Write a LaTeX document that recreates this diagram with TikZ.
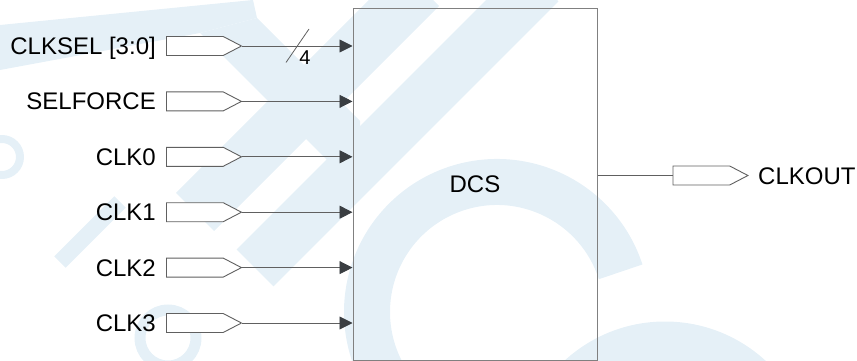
\documentclass[tikz,border=0pt]{standalone}
\usepackage{fontspec}
\setmainfont{Liberation Sans}
\usetikzlibrary{arrows.meta,shapes.symbols}

\definecolor{wmblue}{RGB}{229,240,247}
\definecolor{wire}{RGB}{96,96,96}
\definecolor{tipgray}{RGB}{58,62,66}
\definecolor{boxgray}{RGB}{128,128,128}

\tikzset{
  port/.style={draw=wire, fill=white, line width=0.9pt, shape=signal, signal to=east,
    signal pointer angle=55, minimum width=75pt, minimum height=19pt, inner sep=0pt, anchor=west},
  pinname/.style={anchor=base east, inner sep=0pt},
  pinwire/.style={draw=wire, line width=0.9pt, -{Triangle[length=13pt,width=13pt,color=tipgray]}},
}

\begin{document}
\begin{tikzpicture}[x=1pt,y=-1pt,font=\fontsize{24}{27}\selectfont]
\useasboundingbox (0,0) rectangle (857,361);

% watermark in the background
\begin{scope}
\clip (0,0) rectangle (857,361);
\fill[wmblue] (0,25) -- (253,0) -- (257,18) -- (200,33) -- (0,70) -- cycle;
\fill[wmblue] (200,33) -- (257,18) -- (360,121) -- (360,193) -- cycle;
\draw[wmblue, line width=54pt] (195,212) -- (420,-13);
\draw[wmblue, line width=52pt] (255,268) -- (540,-17);
\draw[wmblue, line width=16pt] (60,262) -- (120,202);
\draw[wmblue, line width=46pt] (497,312) ++(-18:130) arc[start angle=-18, end angle=-215, radius=130];
\draw[wmblue, line width=43pt] (665,470) circle[radius=127];
\draw[wmblue, line width=8pt] (2,157) circle[radius=18];
\draw[wmblue, line width=11pt] (168,338) circle[radius=28];
\end{scope}

% the block
\node[draw=boxgray, line width=1pt, minimum width=244pt, minimum height=351pt, inner sep=0pt] (dcs) at (475,184.5) {DCS};

% inputs
\node[port] (psel) at (166,46) {};
\node[pinname] (nsel) at (156,54.6) {CLKSEL [3:0]};
\draw[pinwire] (psel.east) -- (dcs.west |- psel.east);
\draw[wire, line width=0.8pt] (286,62.5) -- (309,29);
\node[inner sep=0pt, font=\fontsize{20}{22}\selectfont] (wid) at (305,57.5) {4};

\node[port] (pforce) at (166,101.4) {};
\node[pinname] (nforce) at (156,110) {SELFORCE};
\draw[pinwire] (pforce.east) -- (dcs.west |- pforce.east);

\node[port] (pclk0) at (166,156.8) {};
\node[pinname] (nclk0) at (156,165.4) {CLK0};
\draw[pinwire] (pclk0.east) -- (dcs.west |- pclk0.east);

\node[port] (pclk1) at (166,212.2) {};
\node[pinname] (nclk1) at (156,220.8) {CLK1};
\draw[pinwire] (pclk1.east) -- (dcs.west |- pclk1.east);

\node[port] (pclk2) at (166,267.6) {};
\node[pinname] (nclk2) at (156,276.2) {CLK2};
\draw[pinwire] (pclk2.east) -- (dcs.west |- pclk2.east);

\node[port] (pclk3) at (166,323) {};
\node[pinname] (nclk3) at (156,331.6) {CLK3};
\draw[pinwire] (pclk3.east) -- (dcs.west |- pclk3.east);

% output
\node[port] (pout) at (672.5,175.5) {};
\node[anchor=base west, inner sep=0pt] (nout) at (758,184.1) {CLKOUT};
\draw[wire, line width=0.9pt] (dcs.east |- pout.west) -- (pout.west);
\end{tikzpicture}
\end{document}
